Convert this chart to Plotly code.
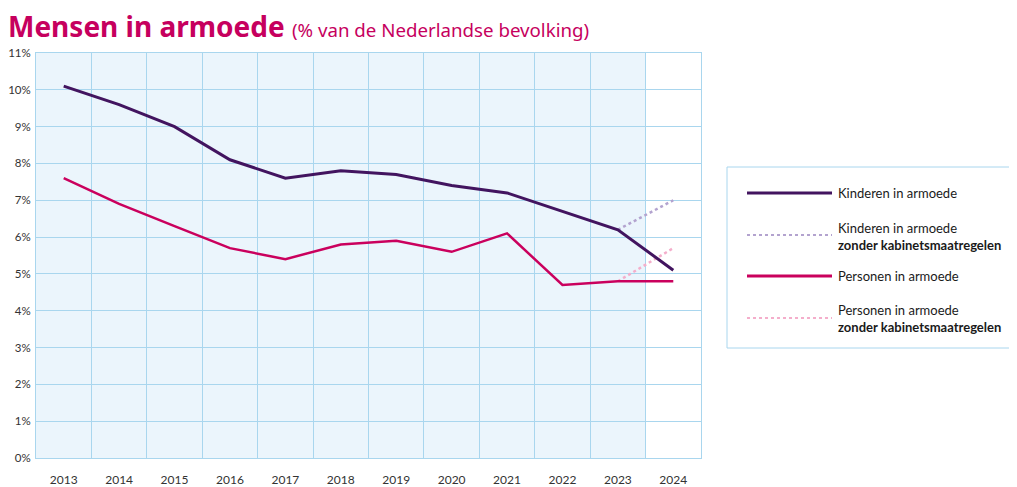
import plotly.graph_objects as go

years = [2013, 2014, 2015, 2016, 2017, 2018, 2019, 2020, 2021, 2022, 2023, 2024]
kinderen = [10.1, 9.6, 9.0, 8.1, 7.6, 7.8, 7.7, 7.4, 7.2, 6.7, 6.2, 5.1]
personen = [7.6, 6.9, 6.3, 5.7, 5.4, 5.8, 5.9, 5.6, 6.1, 4.7, 4.8, 4.8]
kinderen_zonder_years = [2023, 2024]
kinderen_zonder = [6.2, 7.0]
personen_zonder_years = [2023, 2024]
personen_zonder = [4.8, 5.7]
y_ticks = [0, 1, 2, 3, 4, 5, 6, 7, 8, 9, 10, 11]
y_ticktext = [f"{v}%" for v in y_ticks]
shaded_years = [2013, 2023]

legend_labels = [
    "Kinderen in armoede",
    "Kinderen in armoede<br><b>zonder kabinetsmaatregelen</b>",
    "Personen in armoede",
    "Personen in armoede<br><b>zonder kabinetsmaatregelen</b>",
]

PURPLE = "#42145F"
MAGENTA = "#CA005D"
LPURPLE = "#B3A3CF"
LPINK = "#F4AECB"
GRID = "#A9D6EE"
SHADE = "#EBF5FC"
FONT = "Lato, 'Noto Sans', sans-serif"

OFF = 8  # page body margin
W, H = 1017 - OFF, 487 - OFF
# plot area in page pixel coordinates
L, R, T, B = 36, 701, 53, 458


def px(x):
    return (x - L) / (R - L)


def py(y):
    return (B - y) / (B - T)


fig = go.Figure()
fig.add_trace(go.Scatter(x=kinderen_zonder_years, y=kinderen_zonder, mode="lines",
                         line=dict(color=LPURPLE, width=2.5, dash="dot"), showlegend=False))
fig.add_trace(go.Scatter(x=personen_zonder_years, y=personen_zonder, mode="lines",
                         line=dict(color=LPINK, width=2.5, dash="dot"), showlegend=False))
fig.add_trace(go.Scatter(x=years, y=kinderen, mode="lines",
                         line=dict(color=PURPLE, width=3), showlegend=False))
fig.add_trace(go.Scatter(x=years, y=personen, mode="lines",
                         line=dict(color=MAGENTA, width=2.5), showlegend=False))

shapes = [
    dict(type="rect", xref="x", yref="y", x0=shaded_years[0] - 0.5, x1=shaded_years[1] + 0.5,
         y0=0, y1=11, fillcolor=SHADE, line=dict(width=0), layer="below"),
    dict(type="rect", xref="paper", yref="paper", x0=px(727), x1=px(1030), y0=py(348), y1=py(167),
         line=dict(color=GRID, width=1), fillcolor="rgba(0,0,0,0)"),
]
leg_styles = [
    (PURPLE, 3, "solid", 193),
    (LPURPLE, 2, "dot", 235),
    (MAGENTA, 3, "solid", 276),
    (LPINK, 2, "dot", 318),
]
annotations = []
text_y = [193, 236, 276, 318]
for (col, w, dash, yy), lab, ty in zip(leg_styles, legend_labels, text_y):
    shapes.append(dict(type="line", xref="paper", yref="paper", x0=px(747), x1=px(832),
                       y0=py(yy), y1=py(yy), line=dict(color=col, width=w, dash=dash)))
    annotations.append(dict(xref="paper", yref="paper", x=px(836), y=py(ty), text=lab,
                            showarrow=False, xanchor="left", yanchor="middle", align="left",
                            font=dict(family=FONT, size=13, color="#1a1a1a")))

annotations.append(dict(xref="paper", yref="paper", x=px(6), y=py(26),
                        text="<b>Mensen in armoede</b> <span style='font-size:18.7px'>(% van de Nederlandse bevolking)</span>",
                        showarrow=False, xanchor="left", yanchor="middle",
                        font=dict(family="'Noto Sans', sans-serif", size=28, color="#C6005E")))

fig.update_layout(
    width=W, height=H,
    margin=dict(l=L - OFF, r=W - (R - OFF), t=T - OFF, b=H - (B - OFF), autoexpand=False),
    paper_bgcolor="white", plot_bgcolor="white",
    shapes=shapes, annotations=annotations,
    font=dict(family=FONT, size=12, color="#333333"),
    xaxis=dict(range=[years[0] - 0.5, years[-1] + 0.5], tickvals=years, ticktext=[str(y) for y in years],
               showgrid=False, zeroline=False, ticks="", showline=True, linecolor=GRID, mirror=True,
               ticklabelstandoff=11, automargin=False,
               minor=dict(tickvals=[y + 0.5 for y in years[:-1]], showgrid=True, gridcolor=GRID, gridwidth=1, ticks="")),
    yaxis=dict(range=[0, 11], tickvals=y_ticks, ticktext=y_ticktext, showgrid=True, gridcolor=GRID, gridwidth=1,
               zeroline=False, ticks="", showline=True, linecolor=GRID, mirror=True, ticklabelstandoff=2,
               tickfont=dict(size=11.5), automargin=False),
)

fig.write_html("out.html")
